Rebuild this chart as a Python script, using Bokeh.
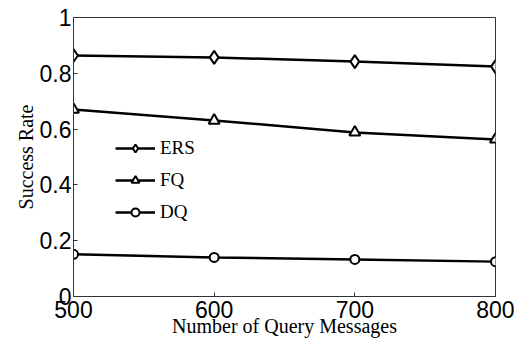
from bokeh.plotting import figure
from bokeh.models import Range1d, FixedTicker, Legend, LegendItem
from bokeh.embed import file_html
from bokeh.resources import INLINE

x_vals = [500, 600, 700, 800]
ers = [0.864, 0.857, 0.842, 0.824]
fq = [0.670, 0.631, 0.588, 0.563]
dq = [0.151, 0.140, 0.133, 0.125]
x_ticks = [500, 600, 700, 800]
y_ticks = [0, 0.2, 0.4, 0.6, 0.8, 1.0]
y_tick_labels = ["0", "0.2", "0.4", "0.6", "0.8", "1"]

p = figure(frame_width=422, frame_height=279, output_backend="svg", toolbar_location=None,
           x_range=Range1d(500, 800), y_range=Range1d(0, 1),
           min_border_left=73, min_border_right=19, min_border_top=17, min_border_bottom=40)
p.grid.visible = False
p.outline_line_color = "#333333"
p.outline_line_width = 1
p.background_fill_color = "white"
p.border_fill_color = "white"

bottom_ax = p.below[0]
left_ax = p.left[0]
for ax in [bottom_ax, left_ax]:
    ax.major_tick_in = 4
    ax.major_tick_out = 0
    ax.minor_tick_line_color = None
    ax.axis_line_color = "#333333"
    ax.major_tick_line_color = "#333333"
    ax.major_label_text_font = "Liberation Sans"
    ax.major_label_text_font_size = "23px"
    ax.major_label_text_color = "black"
    ax.axis_label_text_font = "Liberation Serif"
    ax.axis_label_text_font_style = "normal"
    ax.axis_label_text_color = "black"

bottom_ax.ticker = FixedTicker(ticks=x_ticks)
left_ax.ticker = FixedTicker(ticks=y_ticks)
left_ax.major_label_overrides = {t: l for t, l in zip(y_ticks, y_tick_labels)}
bottom_ax.axis_label = "Number of Query Messages"
left_ax.axis_label = "Success Rate"
bottom_ax.axis_label_text_font_size = "20px"
left_ax.axis_label_text_font_size = "20px"
bottom_ax.major_label_standoff = 4
left_ax.major_label_standoff = 2
bottom_ax.axis_label_standoff = -6
left_ax.axis_label_standoff = 0

items = []
specs = [("ERS", ers, "diamond", 13), ("FQ", fq, "triangle", 11), ("DQ", dq, "circle", 9)]
for name, ys, marker, sz in specs:
    l = p.line(x_vals, ys, line_color="black", line_width=2.5)
    s = p.scatter(x_vals, ys, marker=marker, size=sz, fill_color="white",
                  line_color="black", line_width=2)
    items.append(LegendItem(label=name, renderers=[l, s]))

legend = Legend(items=items, location=(42, 73), border_line_color=None,
                background_fill_alpha=0, label_text_font="Liberation Serif",
                label_text_font_size="19px", label_text_color="black",
                glyph_width=40, spacing=10, label_standoff=5)
p.add_layout(legend, "center")

open("out.html", "w").write(file_html(p, INLINE))
